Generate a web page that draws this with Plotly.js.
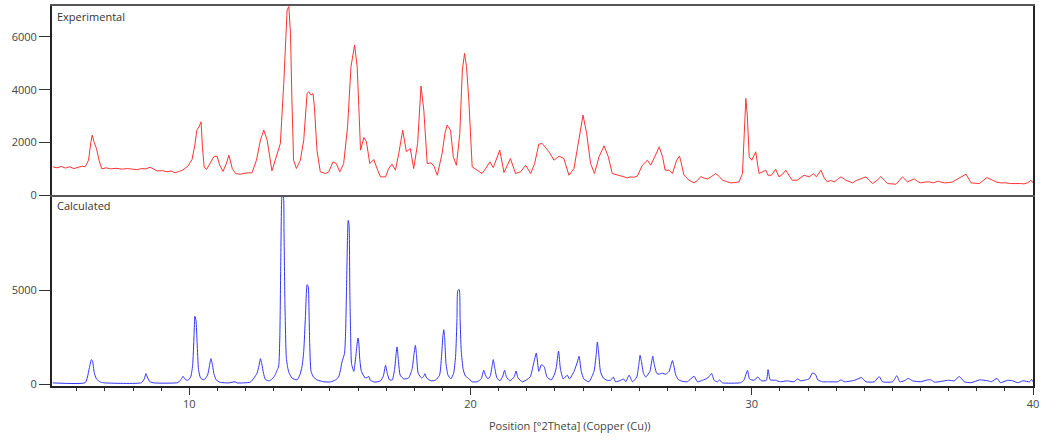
<!DOCTYPE html>
<html>
<head>
<meta charset="utf-8">
<script src="https://cdn.plot.ly/plotly-3.0.1.min.js"></script>
<style>html,body{margin:0;padding:0;background:#fff;}#chart{width:1042px;height:442px;}</style>
</head>
<body>
<div id="chart"></div>
<script>
// Experimental pattern (2Theta, counts)
var expX = [5.15,5.3,5.45,5.6,5.75,5.9,6.05,6.2,6.30,6.42,6.50,6.55,6.62,6.70,6.80,6.89,7.05,7.2,7.4,7.6,7.8,8.0,8.15,8.3,8.45,8.61,8.75,8.86,9.05,9.2,9.35,9.5,9.62,9.75,9.95,10.10,10.20,10.27,10.35,10.42,10.47,10.53,10.62,10.75,10.87,10.99,11.08,11.20,11.32,11.41,11.53,11.65,11.81,12.05,12.23,12.39,12.53,12.65,12.77,12.94,13.10,13.24,13.36,13.48,13.54,13.60,13.65,13.71,13.81,13.95,14.07,14.19,14.25,14.33,14.40,14.45,14.54,14.66,14.84,14.96,15.11,15.23,15.35,15.49,15.63,15.75,15.88,15.97,16.03,16.09,16.21,16.30,16.42,16.56,16.70,16.80,16.98,17.09,17.21,17.33,17.45,17.59,17.72,17.86,17.98,18.12,18.24,18.34,18.46,18.60,18.70,18.82,18.99,19.09,19.17,19.29,19.39,19.50,19.62,19.71,19.79,19.86,19.94,20.06,20.24,20.41,20.53,20.69,20.81,21.04,21.19,21.42,21.60,21.78,21.96,22.14,22.28,22.43,22.55,22.68,22.79,22.97,23.15,23.32,23.50,23.68,23.86,24.00,24.13,24.27,24.41,24.57,24.75,24.90,25.04,25.22,25.35,25.46,25.58,25.69,25.80,25.93,26.11,26.29,26.41,26.55,26.71,26.83,26.92,27.06,27.18,27.33,27.43,27.47,27.59,27.77,27.95,28.07,28.19,28.30,28.43,28.58,28.72,28.85,28.96,29.10,29.25,29.40,29.55,29.67,29.73,29.79,29.84,29.91,30.00,30.14,30.26,30.38,30.50,30.58,30.70,30.85,30.97,31.10,31.21,31.32,31.44,31.62,31.74,31.86,32.04,32.19,32.30,32.46,32.58,32.69,32.80,32.93,33.05,33.17,33.35,33.47,33.59,33.72,33.88,34.06,34.18,34.30,34.45,34.59,34.72,34.83,34.98,35.13,35.25,35.36,35.54,35.66,35.78,35.90,36.01,36.16,36.31,36.46,36.61,36.73,36.85,37.00,37.14,37.32,37.48,37.62,37.80,37.95,38.10,38.23,38.36,38.56,38.70,38.86,39.03,39.21,39.38,39.56,39.68,39.80,39.93,40.0];
var expY = [1074,1040,1090,1030,1080,1010,1060,1100,1080,1330,2000,2277,2000,1771,1300,1000,1040,1000,1020,990,1010,1000,970,1010,1000,1060,980,920,930,890,920,850,900,940,1100,1354,1900,2467,2594,2783,1800,1062,980,1200,1455,1480,1150,904,1200,1518,1012,820,797,847,847,1328,2087,2467,2087,923,1455,1960,4239,7020,7150,6134,3605,1328,1012,1328,2087,3858,3921,3795,3858,3352,1708,885,823,885,1265,1200,885,1200,2594,4871,5693,4871,3352,1708,2189,2024,1200,1354,949,696,696,1012,1177,949,1582,2467,1645,1771,1012,1960,4137,3226,1200,1226,1100,759,1582,2341,2657,2467,1455,1138,2341,4744,5376,4871,3605,1075,949,823,1000,1265,1050,1708,860,1391,823,885,1138,823,1200,1935,1960,1800,1645,1328,1480,1391,759,1012,2087,3036,2341,1200,823,1455,1872,1455,823,759,720,696,660,696,680,720,1138,1328,1138,1455,1834,1455,949,949,823,1328,1480,1328,759,569,468,560,708,650,620,720,823,700,569,520,468,480,506,823,2087,3669,3036,1455,1328,1645,823,900,949,759,759,987,696,800,949,760,569,569,650,759,696,810,700,949,650,506,560,506,600,696,569,520,468,560,620,696,560,443,560,708,560,443,430,417,560,696,506,560,620,520,468,500,506,470,531,500,468,480,506,620,700,797,468,450,443,560,670,569,500,468,470,443,450,443,430,468,569,468];

// Calculated pattern (2Theta, counts)
var calcX = [5.15,6.30,6.38,6.45,6.52,6.56,6.62,6.70,6.85,7.0,8.30,8.40,8.46,8.52,8.60,8.75,9.60,9.72,9.78,9.85,9.95,10.05,10.12,10.17,10.20,10.24,10.28,10.33,10.40,10.52,10.65,10.72,10.77,10.82,10.88,10.96,11.10,11.40,11.63,11.70,12.17,12.30,12.41,12.48,12.53,12.58,12.64,12.71,12.85,12.98,13.06,13.12,13.18,13.22,13.25,13.28,13.30,13.34,13.37,13.40,13.45,13.50,13.54,13.65,13.83,13.93,14.01,14.07,14.13,14.19,14.23,14.26,14.28,14.33,14.42,14.54,14.78,15.02,15.20,15.31,15.38,15.43,15.52,15.56,15.59,15.63,15.65,15.68,15.71,15.74,15.77,15.85,15.90,15.94,16.00,16.03,16.06,16.12,16.26,16.33,16.38,16.44,16.60,16.80,16.90,16.98,17.04,17.12,17.22,17.30,17.36,17.39,17.43,17.50,17.63,17.80,17.92,17.99,18.04,18.08,18.14,18.26,18.34,18.38,18.44,18.60,18.75,18.90,18.97,19.02,19.05,19.08,19.13,19.20,19.30,19.40,19.47,19.52,19.55,19.60,19.63,19.67,19.74,19.82,19.90,20.06,20.24,20.38,20.47,20.53,20.62,20.70,20.77,20.81,20.86,20.94,21.05,21.15,21.21,21.28,21.40,21.55,21.62,21.69,21.85,22.12,22.24,22.34,22.43,22.52,22.62,22.72,22.87,22.99,23.05,23.13,23.20,23.30,23.44,23.52,23.68,23.80,23.86,23.94,24.03,24.21,24.39,24.47,24.51,24.55,24.62,24.72,24.85,24.98,25.08,25.16,25.34,25.44,25.52,25.64,25.76,25.91,25.98,26.03,26.08,26.15,26.23,26.38,26.44,26.48,26.53,26.62,26.70,26.82,26.94,27.06,27.14,27.18,27.23,27.30,27.40,27.55,27.71,27.95,28.07,28.25,28.43,28.58,28.66,28.78,28.86,28.95,29.60,29.72,29.85,29.92,30.08,30.22,30.34,30.52,30.58,30.66,30.84,31.02,31.26,31.50,31.63,31.74,31.92,32.04,32.16,32.27,32.35,32.52,32.70,33.06,33.17,33.30,33.66,33.90,34.06,34.36,34.53,34.65,35.01,35.16,35.26,35.42,35.57,35.72,36.0,36.25,36.37,36.50,37.0,37.2,37.38,37.56,37.80,38.10,38.40,38.52,38.72,38.84,39.10,39.28,39.46,39.64,39.88,39.95,40.0];
var calcY = [90,100,400,900,1325,1250,650,300,130,90,100,300,583,350,150,90,110,300,440,280,230,400,1000,2600,3620,3400,2200,800,350,250,500,1000,1378,1100,550,250,120,90,150,90,130,350,600,1000,1378,1100,600,265,200,350,530,750,980,2500,6000,9500,10030,10030,8000,4500,1460,900,660,350,250,500,955,1760,3590,5300,5200,3800,2300,700,400,250,150,140,250,400,800,1200,1650,2800,4950,8000,8700,8500,4950,2500,1110,700,1200,1760,2470,2200,1400,700,350,380,440,230,130,200,450,1025,600,250,250,800,1700,2000,1400,500,300,350,800,1600,2080,1600,600,350,450,580,350,200,230,500,1500,2600,2910,2500,1100,500,300,600,1500,3500,5000,5030,3500,1800,800,450,370,150,150,300,760,500,300,450,1000,1325,900,350,200,450,758,400,200,400,720,350,150,400,1100,1675,700,1050,950,400,250,558,900,1781,800,300,500,300,700,1200,1500,700,300,150,700,1600,2258,1800,700,350,230,230,400,150,230,300,150,500,150,400,1000,1553,1200,600,400,700,1200,1500,1100,600,550,600,550,700,1100,1272,1000,500,250,170,150,440,150,230,350,583,230,150,250,100,100,230,758,300,230,400,200,230,793,250,230,150,200,150,300,200,250,300,617,530,250,150,150,150,250,150,230,371,150,150,424,150,150,477,150,200,330,200,150,250,250,130,230,200,424,150,100,250,200,150,330,100,230,200,100,200,150,270,150];

var xTicks = [10, 20, 30, 40];
var yTopTicks = [0, 2000, 4000, 6000];
var yBotTicks = [0, 5000];
var panelLabels = ['Experimental', 'Calculated'];
var xTitle = 'Position [°2Theta] (Copper (Cu))';

var FONT = '"Open Sans", "Noto Sans", sans-serif';
var split = 0.502;

var traces = [
  {x: expX, y: expY, type: 'scatter', mode: 'lines', xaxis: 'x2', yaxis: 'y',
   line: {color: '#ff3333', width: 1}, hoverinfo: 'skip'},
  {x: calcX, y: calcY, type: 'scatter', mode: 'lines', xaxis: 'x', yaxis: 'y2',
   line: {color: '#3333ff', width: 1, shape: 'spline', smoothing: 0.5}, hoverinfo: 'skip'}
];

var layout = {
  width: 1042, height: 442,
  margin: {l: 52, r: 9, t: 6, b: 56},
  paper_bgcolor: '#ffffff', plot_bgcolor: '#ffffff',
  showlegend: false,
  font: {family: FONT, size: 11, color: '#444'},
  xaxis: {
    domain: [0, 1], anchor: 'y2', range: [5.12, 40],
    tickvals: xTicks, ticks: 'outside', ticklen: 7, tickwidth: 1, tickcolor: '#333',
    minor: {dtick: 1, tick0: 0, ticks: 'outside', ticklen: 3, tickcolor: '#333', showgrid: false},
    showline: true, linecolor: '#222', linewidth: 2, mirror: false,
    showgrid: false, zeroline: false,
    tickfont: {family: FONT, size: 11, color: '#444'}
  },
  xaxis2: {
    domain: [0, 1], anchor: 'y', range: [5.12, 40], matches: 'x',
    showticklabels: false, ticks: '', showgrid: false, zeroline: false,
    showline: true, linecolor: '#555', linewidth: 2, mirror: true
  },
  yaxis: {
    domain: [split, 1], anchor: 'x2', range: [0, 7170],
    tickvals: yTopTicks, tickformat: 'd', ticks: 'outside', ticklen: 11, tickcolor: '#333',
    showline: true, linecolor: '#222', linewidth: 2, mirror: true,
    showgrid: false, zeroline: false,
    tickfont: {family: FONT, size: 11, color: '#444'}
  },
  yaxis2: {
    domain: [0, split], anchor: 'x', range: [-74, 10037],
    tickvals: yBotTicks, tickformat: 'd', ticks: 'outside', ticklen: 11, tickcolor: '#333',
    showline: true, linecolor: '#222', linewidth: 2, mirror: true,
    showgrid: false, zeroline: false,
    tickfont: {family: FONT, size: 11, color: '#444'}
  },
  annotations: [
    {text: panelLabels[0], xref: 'paper', yref: 'paper', x: 0, y: 1, xanchor: 'left', yanchor: 'top',
     xshift: 3, yshift: -1, showarrow: false, font: {family: FONT, size: 11, color: '#333'}},
    {text: panelLabels[1], xref: 'paper', yref: 'paper', x: 0, y: split, xanchor: 'left', yanchor: 'top',
     xshift: 3, yshift: -1, showarrow: false, font: {family: FONT, size: 11, color: '#333'}},
    {text: xTitle, xref: 'paper', yref: 'paper', x: 0.528, y: 0, xanchor: 'center', yanchor: 'middle',
     yshift: -39, showarrow: false, font: {family: FONT, size: 11, color: '#444'}}
  ]
};

Plotly.newPlot('chart', traces, layout, {displayModeBar: false, staticPlot: true});
</script>
</body>
</html>
